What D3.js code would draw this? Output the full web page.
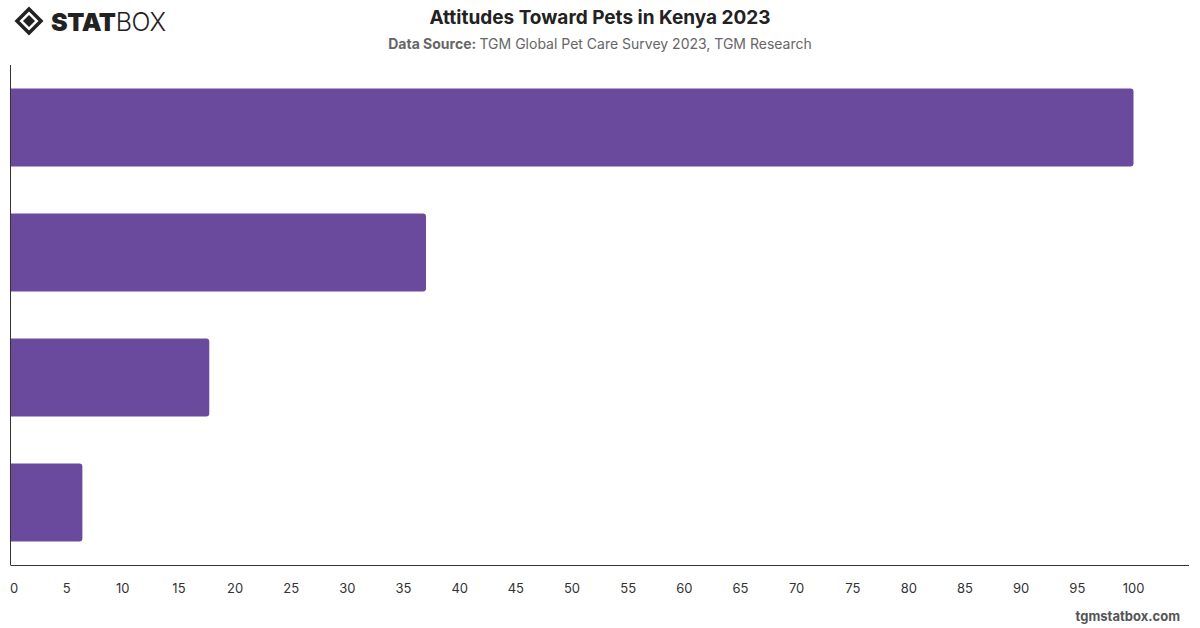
<!DOCTYPE html>
<html>
<head>
<meta charset="utf-8">
<style>
  body { margin: 0; background: #fff; font-family: Inter, "Open Sans", sans-serif; }
  svg text { font-family: Inter, "Open Sans", sans-serif; }
</style>
</head>
<body>
<svg id="chart" width="1200" height="628"></svg>
<script src="https://cdnjs.cloudflare.com/ajax/libs/d3/7.8.5/d3.min.js"></script>
<script>
// data (category labels are not shown on the chart)
var categories = ["Pets are part of the family", "Pets improve wellbeing", "Pets are a responsibility", "Pets are a burden"];
var values = [100, 37, 17.7, 6.4];
var xTicks = [0, 5, 10, 15, 20, 25, 30, 35, 40, 45, 50, 55, 60, 65, 70, 75, 80, 85, 90, 95, 100];

var svg = d3.select("#chart");
var plotLeft = 10.5, plotRight = 1189, plotTop = 65, plotBottom = 565;

var x = d3.scaleLinear().domain([0, 100]).range([plotLeft, plotLeft + 1123]);
var y = d3.scaleBand().domain(categories).range([plotTop, plotBottom]).paddingInner(0.376).paddingOuter(0.188);

// title
svg.append("text")
  .attr("x", 600).attr("y", 24)
  .attr("text-anchor", "middle")
  .style("font-size", "19px").style("font-weight", "bold").style("fill", "#222")
  .text("Attitudes Toward Pets in Kenya 2023");

var sub = svg.append("text")
  .attr("x", 600).attr("y", 49)
  .attr("text-anchor", "middle")
  .style("font-size", "14px").style("fill", "#666");
sub.append("tspan").style("font-weight", "bold").text("Data Source: ");
sub.append("tspan").text("TGM Global Pet Care Survey 2023, TGM Research");

// logo
var logo = svg.append("g").attr("transform", "translate(29,21)");
logo.append("path")
  .attr("d", "M0,-12 L12,0 L0,12 L-12,0 Z")
  .attr("fill", "none").attr("stroke", "#222").attr("stroke-width", 3.5);
logo.append("path")
  .attr("d", "M0,-6 L6,0 L0,6 L-6,0 Z")
  .attr("fill", "#222");
var brand = svg.append("text")
  .attr("x", 51).attr("y", 31)
  .style("font-size", "25px").style("fill", "#222").style("letter-spacing", "-0.4px");
brand.append("tspan").style("font-weight", "900").text("STAT");
brand.append("tspan").style("font-weight", "300").text("BOX");

// bars with rounded right end
var r = 3;
svg.append("g").selectAll("path")
  .data(values)
  .enter()
  .append("path")
  .attr("fill", "#6A4A9C")
  .attr("d", function(d, i) {
    var x0 = x(0), x1 = x(d), y0 = y(categories[i]), h = y.bandwidth();
    return "M" + x0 + "," + y0 +
      "H" + (x1 - r) + "Q" + x1 + "," + y0 + " " + x1 + "," + (y0 + r) +
      "V" + (y0 + h - r) + "Q" + x1 + "," + (y0 + h) + " " + (x1 - r) + "," + (y0 + h) +
      "H" + x0 + "Z";
  });

// axes lines
svg.append("line")
  .attr("x1", plotLeft).attr("x2", plotLeft).attr("y1", plotTop).attr("y2", plotBottom)
  .attr("stroke", "#333").attr("stroke-width", 1);
svg.append("line")
  .attr("x1", plotLeft).attr("x2", plotRight).attr("y1", plotBottom + 0.5).attr("y2", plotBottom + 0.5)
  .attr("stroke", "#333").attr("stroke-width", 1);

// x tick labels
svg.append("g").selectAll("text")
  .data(xTicks)
  .enter()
  .append("text")
  .attr("x", function(d) { return d == 0 ? x(d) + 3.5 : x(d); })
  .attr("y", 593)
  .attr("text-anchor", "middle")
  .style("font-size", "13px").style("fill", "#333")
  .text(function(d) { return d; });

// watermark
svg.append("text")
  .attr("x", 1180).attr("y", 621)
  .attr("text-anchor", "end")
  .style("font-size", "13px").style("font-weight", "bold").style("fill", "#555")
  .text("tgmstatbox.com");
</script>
</body>
</html>
